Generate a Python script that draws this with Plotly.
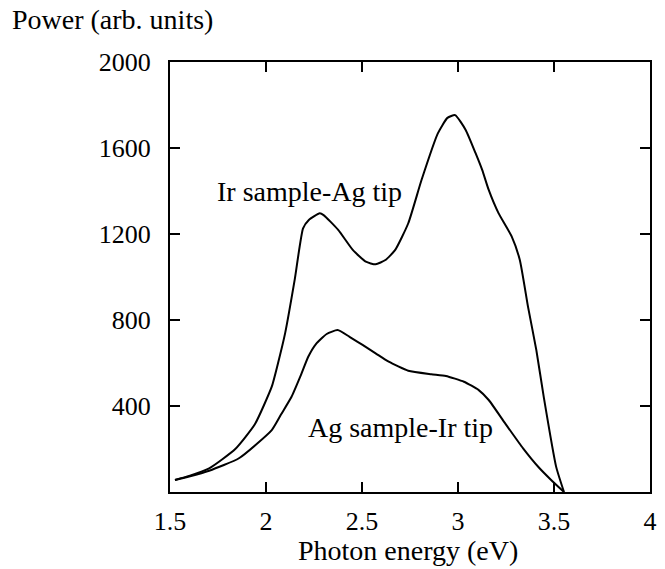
import plotly.graph_objects as go

# Ir sample - Ag tip
ir_x = [1.526, 1.60, 1.704, 1.84, 1.942, 2.03, 2.06, 2.10, 2.15, 2.193, 2.223, 2.28, 2.30,
        2.376, 2.452, 2.52, 2.571, 2.622, 2.673, 2.741, 2.81, 2.895, 2.945, 2.985, 3.04,
        3.091, 3.126, 3.16, 3.211, 3.28, 3.322, 3.365, 3.408, 3.447, 3.511, 3.552]
ir_y = [56, 75, 110, 200, 315, 490, 590, 740, 990, 1226, 1265, 1296, 1288,
        1219, 1126, 1071, 1059, 1079, 1126, 1250, 1451, 1668, 1740, 1753, 1684,
        1577, 1498, 1405, 1297, 1188, 1079, 860, 660, 440, 118, 0]

# Ag sample - Ir tip
ag_x = [1.526, 1.60, 1.704, 1.859, 2.03, 2.078, 2.133, 2.18, 2.22, 2.26, 2.316, 2.373, 2.435,
        2.503, 2.571, 2.639, 2.741, 2.861, 2.937, 3.031, 3.108, 3.16, 3.245, 3.339,
        3.42, 3.485, 3.552]
ag_y = [56, 72, 99, 157, 288, 360, 443, 540, 629, 688, 735, 753, 722,
        684, 645, 606, 564, 548, 540, 513, 474, 428, 320, 203,
        115, 56, 0]

x_ticks = [1.5, 2, 2.5, 3, 3.5, 4]
x_labels = ["1.5", "2", "2.5", "3", "3.5", "4"]
y_ticks = [400, 800, 1200, 1600, 2000]
y_labels = ["400", "800", "1200", "1600", "2000"]

FONT = "Liberation Serif"
TICK_FS = 26
TEXT_FS = 28

L, R, T, B = 170, 8, 62, 77
W, H = 665, 569
PW, PH = W - L - R, H - T - B

def px_x(px):
    return (px - L) / PW

def px_y(py):
    return (H - B - py) / PH

fig = go.Figure()
line = dict(color="black", width=2, shape="spline", smoothing=0.5)
fig.add_trace(go.Scatter(x=ir_x, y=ir_y, mode="lines", line=line, name="Ir sample-Ag tip"))
fig.add_trace(go.Scatter(x=ag_x, y=ag_y, mode="lines", line=line, name="Ag sample-Ir tip"))

fig.update_layout(
    width=W, height=H,
    margin=dict(l=L, r=R, t=T, b=B),
    paper_bgcolor="white", plot_bgcolor="white",
    showlegend=False,
    font=dict(family=FONT, size=TICK_FS, color="black"),
)
fig.update_xaxes(
    range=[1.5, 4], tickvals=x_ticks, ticktext=x_labels,
    ticks="inside", ticklen=10, tickwidth=2, tickcolor="black",
    showline=True, linewidth=2, linecolor="black", mirror="ticks",
    showgrid=False, zeroline=False,
    ticklabelstandoff=5,
    tickfont=dict(family=FONT, size=TICK_FS),
)
fig.update_yaxes(
    range=[0, 2000], tickvals=y_ticks, ticktext=y_labels,
    ticks="inside", ticklen=10, tickwidth=2, tickcolor="black",
    showline=True, linewidth=2, linecolor="black", mirror="ticks",
    showgrid=False, zeroline=False,
    ticklabelstandoff=12,
    tickfont=dict(family=FONT, size=TICK_FS),
)
fig.add_annotation(x=2.226, y=1400, text="Ir sample-Ag tip", showarrow=False,
                   font=dict(family=FONT, size=TEXT_FS))
fig.add_annotation(x=2.70, y=298, text="Ag sample-Ir tip", showarrow=False,
                   font=dict(family=FONT, size=TEXT_FS))
fig.add_annotation(x=px_x(8), y=px_y(20), xref="x domain", yref="y domain",
                   text="Power (arb. units)", showarrow=False,
                   xanchor="left", yanchor="middle",
                   font=dict(family=FONT, size=TEXT_FS))
fig.add_annotation(x=px_x(411), y=px_y(550), xref="x domain", yref="y domain",
                   text="Photon energy (eV)", showarrow=False,
                   xanchor="center", yanchor="middle",
                   font=dict(family=FONT, size=TEXT_FS))

fig.write_html("out.html")
